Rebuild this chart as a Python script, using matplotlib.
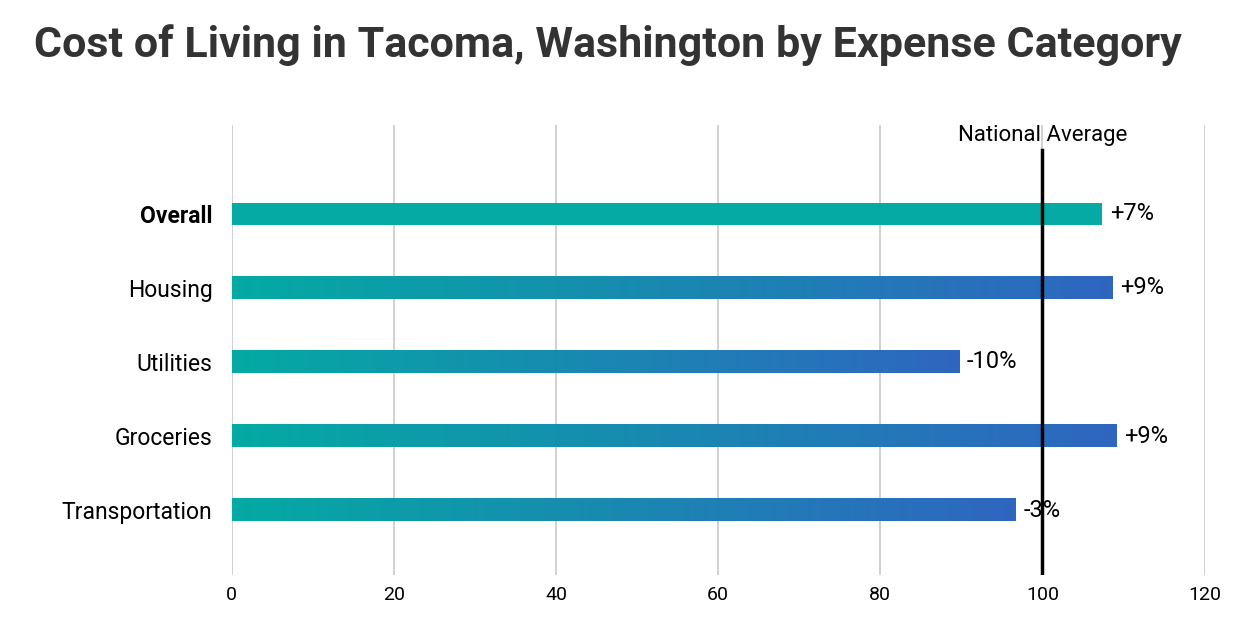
import numpy as np
import matplotlib.pyplot as plt
from matplotlib.colors import LinearSegmentedColormap

plt.rcParams['font.family'] = ['Roboto', 'DejaVu Sans']

categories = ['Overall', 'Housing', 'Utilities', 'Groceries', 'Transportation']
values = [107.3, 108.6, 89.7, 109.1, 96.7]
labels = ['+7%', '+9%', '-10%', '+9%', '-3%']

teal = '#04aaa3'
blue = '#2f66c0'
cmap = LinearSegmentedColormap.from_list('tb', [teal, blue])

fig = plt.figure(figsize=[12.6, 6.24], dpi=100)
ax = fig.add_axes([0.184, 0.078, 0.772, 0.722])
ax.set_xlim(0, 120)
ax.set_ylim(4.88, -1.2)

h = 0.3
grad = np.linspace(0, 1, 256).reshape(1, -1)
for i, (v, lab) in enumerate(zip(values, labels)):
    if i == 0:
        ax.barh(i, v, height=h, color=teal, zorder=2)
    else:
        ax.imshow(grad, cmap=cmap, aspect='auto', extent=[0, v, i + h/2, i - h/2], zorder=2)
    ax.text(v + 1.0, i, lab, va='center', ha='left', fontsize=17, zorder=4)

ax.axvline(100, color='black', lw=2.5, ymax=0.944, zorder=3)
ax.text(100, -1.05, 'National Average', ha='center', va='center', fontsize=16)

ax.set_xticks(range(0, 121, 20))
ax.grid(axis='x', color='#c8c8c8', lw=1.2, zorder=0)
ax.set_axisbelow(True)
ax.set_yticks(range(len(categories)))
ax.set_yticklabels(categories, fontsize=16.5)
ax.get_yticklabels()[0].set_fontweight('bold')
ax.tick_params(axis='x', labelsize=14, length=0, pad=8)
ax.tick_params(axis='y', length=0, pad=14)
for s in ax.spines.values():
    s.set_visible(False)

fig.text(0.027, 0.928, 'Cost of Living in Tacoma, Washington by Expense Category',
         fontsize=31, fontweight='bold', color='#333333', va='center')

fig.savefig('out.png', dpi=100)
